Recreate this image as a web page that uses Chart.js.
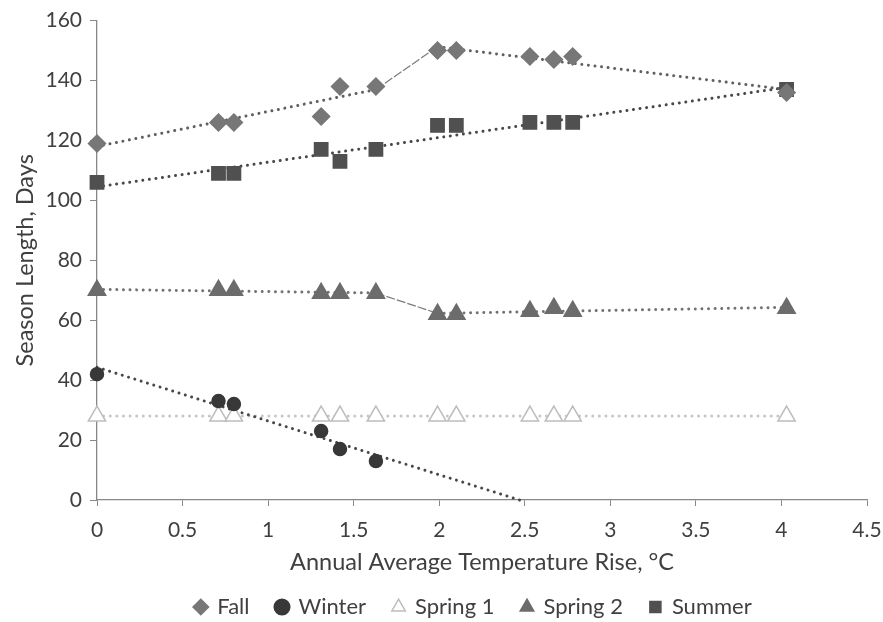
<!DOCTYPE html>
<html>
<head>
<meta charset="utf-8">
<script src="https://cdn.jsdelivr.net/npm/chart.js@4/dist/chart.umd.min.js"></script>
<style>
  body { margin: 0; background: #ffffff; }
  canvas { display: block; }
</style>
</head>
<body>
<canvas id="chart" width="883" height="622"></canvas>
<script>
// values
const tempRise = [0, 0.71, 0.8, 1.31, 1.42, 1.63, 1.99, 2.1, 2.53, 2.67, 2.78, 4.03];
const fallDays = [119, 126, 126, 128, 138, 138, 150, 150, 148, 147, 148, 136];
const winterDays = [42, 33, 32, 23, 17, 13];
const spring1Days = [28, 28, 28, 28, 28, 28, 28, 28, 28, 28, 28, 28];
const spring2Days = [70, 70, 70, 69, 69, 69, 62, 62, 63, 64, 63, 64];
const summerDays = [106, 109, 109, 117, 113, 117, 125, 125, 126, 126, 126, 137];

// trend lines (end points as drawn in the picture)
const fallTrendX = [0, 1.63, 1.99, 4.03];
const fallTrendY = [118, 137, 151.3, 137];
const spring2TrendX = [0, 1.63, 1.99, 4.03];
const spring2TrendY = [70.3, 69.1, 62.3, 64.3];
const summerTrendX = [0, 4.03];
const summerTrendY = [104.5, 137.7];
const winterTrendX = [0, 2.47];
const winterTrendY = [44.3, 0];
const spring1TrendX = [0, 4.03];
const spring1TrendY = [28, 28];

const FONT = 'Lato';
const TEXT = '#404040';
const AXIS = '#888888';

const pts = (xs, ys) => ys.map((y, i) => ({x: xs[i], y: y}));

const marker = (label, ys, style, fill, stroke, radius) => ({
    label: label,
    data: pts(tempRise, ys),
    pointStyle: style,
    pointRadius: radius,
    pointHoverRadius: radius,
    backgroundColor: fill,
    borderColor: stroke,
    borderWidth: 1.5,
    clip: false,
    order: 0
});

const trend = (xs, ys, color, hasJoin) => ({
    label: 'trend',
    data: pts(xs, ys),
    showLine: true,
    pointRadius: 0,
    pointHitRadius: 0,
    borderColor: color,
    borderWidth: 3,
    borderDash: [0.01, 6.6],
    borderCapStyle: 'round',
    clip: false,
    order: 1,
    segment: hasJoin ? {
        // the short jump between the two fitted pieces is a thin dashed line
        borderDash: c => c.p0DataIndex === 1 ? [9, 2] : undefined,
        borderWidth: c => c.p0DataIndex === 1 ? 1.2 : undefined,
        borderColor: c => c.p0DataIndex === 1 ? '#7a7a7a' : undefined,
        borderCapStyle: c => c.p0DataIndex === 1 ? 'butt' : undefined
    } : undefined
});

// nudge the legend row to where it sits in the picture
const legendShift = {
    id: 'legendShift',
    afterLayout(chart) {
        chart.legend.left += 32;
        chart.legend.right += 32;
    }
};

new Chart(document.getElementById('chart'), {
    type: 'scatter',
    data: {
        datasets: [
            marker('Fall', fallDays, 'rectRot', '#777777', '#777777', 8.5),
            marker('Winter', winterDays, 'circle', '#383838', '#383838', 6.5),
            marker('Spring 1', spring1Days, 'triangle', '#ffffff', '#bdbdbd', 10),
            marker('Spring 2', spring2Days, 'triangle', '#6c6c6c', '#6c6c6c', 10),
            marker('Summer', summerDays, 'rect', '#505050', '#505050', 9.4),
            trend(fallTrendX, fallTrendY, '#606060', true),
            trend(winterTrendX, winterTrendY, '#474747', false),
            trend(spring1TrendX, spring1TrendY, '#c6c6c6', false),
            trend(spring2TrendX, spring2TrendY, '#727272', true),
            trend(summerTrendX, summerTrendY, '#484848', false)
        ]
    },
    options: {
        responsive: false,
        animation: false,
        layout: {padding: {left: 0, top: 20, right: 0, bottom: -6}},
        plugins: {
            tooltip: {enabled: false},
            legend: {
                position: 'bottom',
                labels: {
                    usePointStyle: true,
                    boxWidth: 11,
                    boxHeight: 11,
                    padding: 27,
                    color: TEXT,
                    font: {family: FONT, size: 22},
                    filter: item => item.datasetIndex < 5
                }
            }
        },
        scales: {
            x: {
                type: 'linear',
                min: 0,
                max: 4.5,
                afterFit: s => { s.height = 69; s.paddingRight = 16; },
                ticks: {
                    stepSize: 0.5,
                    color: TEXT,
                    padding: 12,
                    font: {family: FONT, size: 21},
                    callback: v => String(Math.round(v * 10) / 10)
                },
                grid: {drawOnChartArea: false, drawTicks: true, tickLength: 6, color: AXIS},
                border: {color: AXIS, width: 1.3},
                title: {
                    display: true,
                    text: 'Annual Average Temperature Rise, °C',
                    color: TEXT,
                    font: {family: FONT, size: 23.5},
                    padding: {top: 0, bottom: -8}
                }
            },
            y: {
                min: 0,
                max: 160,
                afterFit: s => { s.width = 97; },
                ticks: {stepSize: 20, color: TEXT, padding: 8, font: {family: FONT, size: 21}},
                grid: {drawOnChartArea: false, drawTicks: true, tickLength: 7, color: AXIS},
                border: {color: AXIS, width: 1.3},
                title: {
                    display: true,
                    text: 'Season Length, Days',
                    color: TEXT,
                    font: {family: FONT, size: 23.5},
                    padding: {top: 11, bottom: 0}
                }
            }
        }
    },
    plugins: [legendShift]
});
</script>
</body>
</html>
